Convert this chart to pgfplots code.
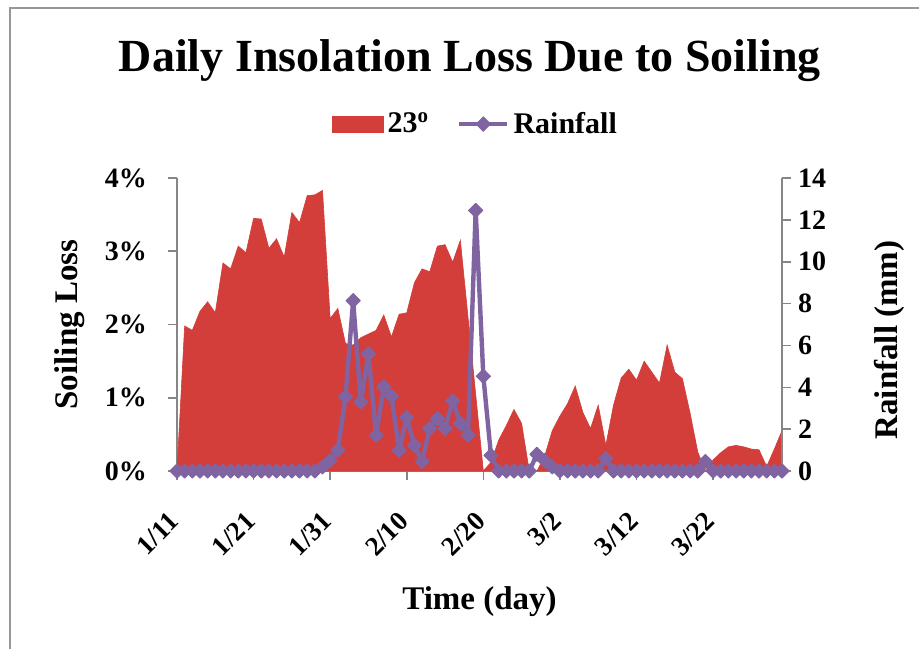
\documentclass[border=0pt]{standalone}
\usepackage{fontspec}
\setmainfont{Liberation Serif}
\usepackage{pgfplots}
\pgfplotsset{compat=1.18}
\usepackage{pgfplotstable}
\definecolor{areared}{RGB}{211,61,58}
\definecolor{rainpurple}{RGB}{128,100,162}
\definecolor{axgray}{RGB}{134,134,134}
\definecolor{framegray}{RGB}{150,150,150}
\pgfplotsset{
  rainlegend/.style={legend image code/.code={\draw[mark repeat=2,mark phase=2,##1] plot coordinates {(0pt,0pt) (12pt,0pt) (24pt,0pt)};}},
  arealegend/.style={legend image code/.code={\fill[areared] (0pt,-4pt) rectangle (25.5pt,4pt);}}
}

\pgfplotstableread{
day loss rain
0 0 0
1 1.98 0
2 1.92 0
3 2.18 0
4 2.31 0
5 2.16 0
6 2.84 0
7 2.76 0
8 3.07 0
9 2.98 0
10 3.45 0
11 3.44 0
12 3.04 0
13 3.17 0
14 2.92 0
15 3.53 0
16 3.39 0
17 3.76 0
18 3.77 0
19 3.83 0.2
20 2.08 0.5
21 2.22 1.0
22 1.74 3.54
23 1.72 8.14
24 1.82 3.3
25 1.87 5.59
26 1.92 1.71
27 2.13 4.02
28 1.83 3.58
29 2.14 0.99
30 2.16 2.55
31 2.57 1.23
32 2.76 0.46
33 2.72 2.03
34 3.07 2.51
35 3.09 2.03
36 2.85 3.35
37 3.15 2.27
38 2.10 1.71
39 1.05 12.45
40 0 4.53
41 0.12 0.75
42 0.42 0
43 0.62 0
44 0.84 0
45 0.65 0
46 0 0
47 0 0.8
48 0.2 0.5
49 0.55 0.2
50 0.75 0
51 0.92 0
52 1.16 0
53 0.80 0
54 0.58 0
55 0.90 0
56 0.35 0.6
57 0.90 0
58 1.27 0
59 1.39 0
60 1.24 0
61 1.50 0
62 1.35 0
63 1.20 0
64 1.72 0
65 1.35 0
66 1.26 0
67 0.79 0
68 0.26 0
69 0 0.45
70 0.15 0
71 0.25 0
72 0.33 0
73 0.35 0
74 0.33 0
75 0.30 0
76 0.29 0
77 0.06 0
78 0.30 0
79 0.55 0
}\datatable

\begin{document}
\begin{tikzpicture}
\useasboundingbox (0pt,0pt) rectangle (459.5pt,-324.5pt);
\fill[white] (0pt,0pt) rectangle (459.5pt,-324.5pt);
\draw[framegray,line width=1pt] (5pt,-324.5pt) -- (5pt,-4pt) -- (459.5pt,-4pt);
\begin{axis}[
  at={(88.5pt,-235.5pt)}, anchor=south west,
  scale only axis, width=302.5pt, height=146.5pt,
  xmin=0, xmax=79, ymin=0, ymax=4,
  axis x line*=bottom, axis y line*=left,
  axis line style={axgray, line width=0.8pt},
  tick style={axgray, line width=0.8pt},
  tick align=outside, major tick length=4.5pt,
  xtick={0,10,...,70},
  xticklabels={1/11,1/21,1/31,2/10,2/20,3/2,3/12,3/22},
  x tick label style={xshift=1pt, yshift=-16pt, rotate=45, anchor=east, font=\bfseries\fontsize{13.5}{13.5}\selectfont},
  ytick={0,1,2,3,4},
  yticklabels={0\%,1\%,2\%,3\%,4\%},
  y tick label style={xshift=-7pt, font=\bfseries\fontsize{14}{14}\selectfont},
  title={Daily Insolation Loss Due to Soiling},
  every axis title/.style={at={(axis description cs:0.484,1.365)}, anchor=base, font=\bfseries\fontsize{23}{23}\selectfont},
  xlabel={Time (day)},
  every axis x label/.style={at={(axis description cs:0.5,-0.447)}, anchor=center, font=\bfseries\fontsize{16.5}{16.5}\selectfont},
  ylabel={Soiling Loss},
  every axis y label/.style={at={(axis description cs:-0.177,0.5)}, anchor=center, rotate=90, font=\bfseries\fontsize{16.5}{16.5}\selectfont},
  legend style={at={(axis description cs:0.495,1.184)}, anchor=center, draw=none, fill=none,
    font=\bfseries\fontsize{15}{15}\selectfont, inner sep=0pt,
    /tikz/every even column/.append style={column sep=12pt}},
  legend columns=2,
  legend cell align=left,
]
\addplot[fill=areared, draw=areared, line width=0.3pt, arealegend]
  table[x=day,y=loss]{\datatable} \closedcycle;
\addlegendentry{23\textsuperscript{o}}
\addlegendimage{rainpurple, line width=2.2pt, mark=square*, mark size=2.5pt,
  mark options={rotate=45, line width=0.5pt}, rainlegend}
\addlegendentry{Rainfall}
\end{axis}
\begin{axis}[
  at={(88.5pt,-235.5pt)}, anchor=south west,
  scale only axis, width=302.5pt, height=146.5pt,
  xmin=0, xmax=79, ymin=0, ymax=14,
  axis x line=none, axis y line*=right,
  axis line style={axgray, line width=0.8pt},
  tick style={axgray, line width=0.8pt},
  tick align=outside, major tick length=4.5pt,
  ytick={0,2,...,14},
  yticklabels={0,2,4,6,8,10,12,14},
  y tick label style={font=\bfseries\fontsize{14}{14}\selectfont},
  ylabel={Rainfall (mm)},
  every axis y label/.style={at={(axis description cs:1.178,0.447)}, anchor=center, rotate=90, font=\bfseries\fontsize{16.5}{16.5}\selectfont},
  clip=false,
]
\addplot[rainpurple, line width=2.2pt, line join=round, mark=square*, mark size=2.5pt,
  mark options={rotate=45, line width=0.5pt}]
  table[x=day,y=rain]{\datatable};
\end{axis}
\end{tikzpicture}
\end{document}
